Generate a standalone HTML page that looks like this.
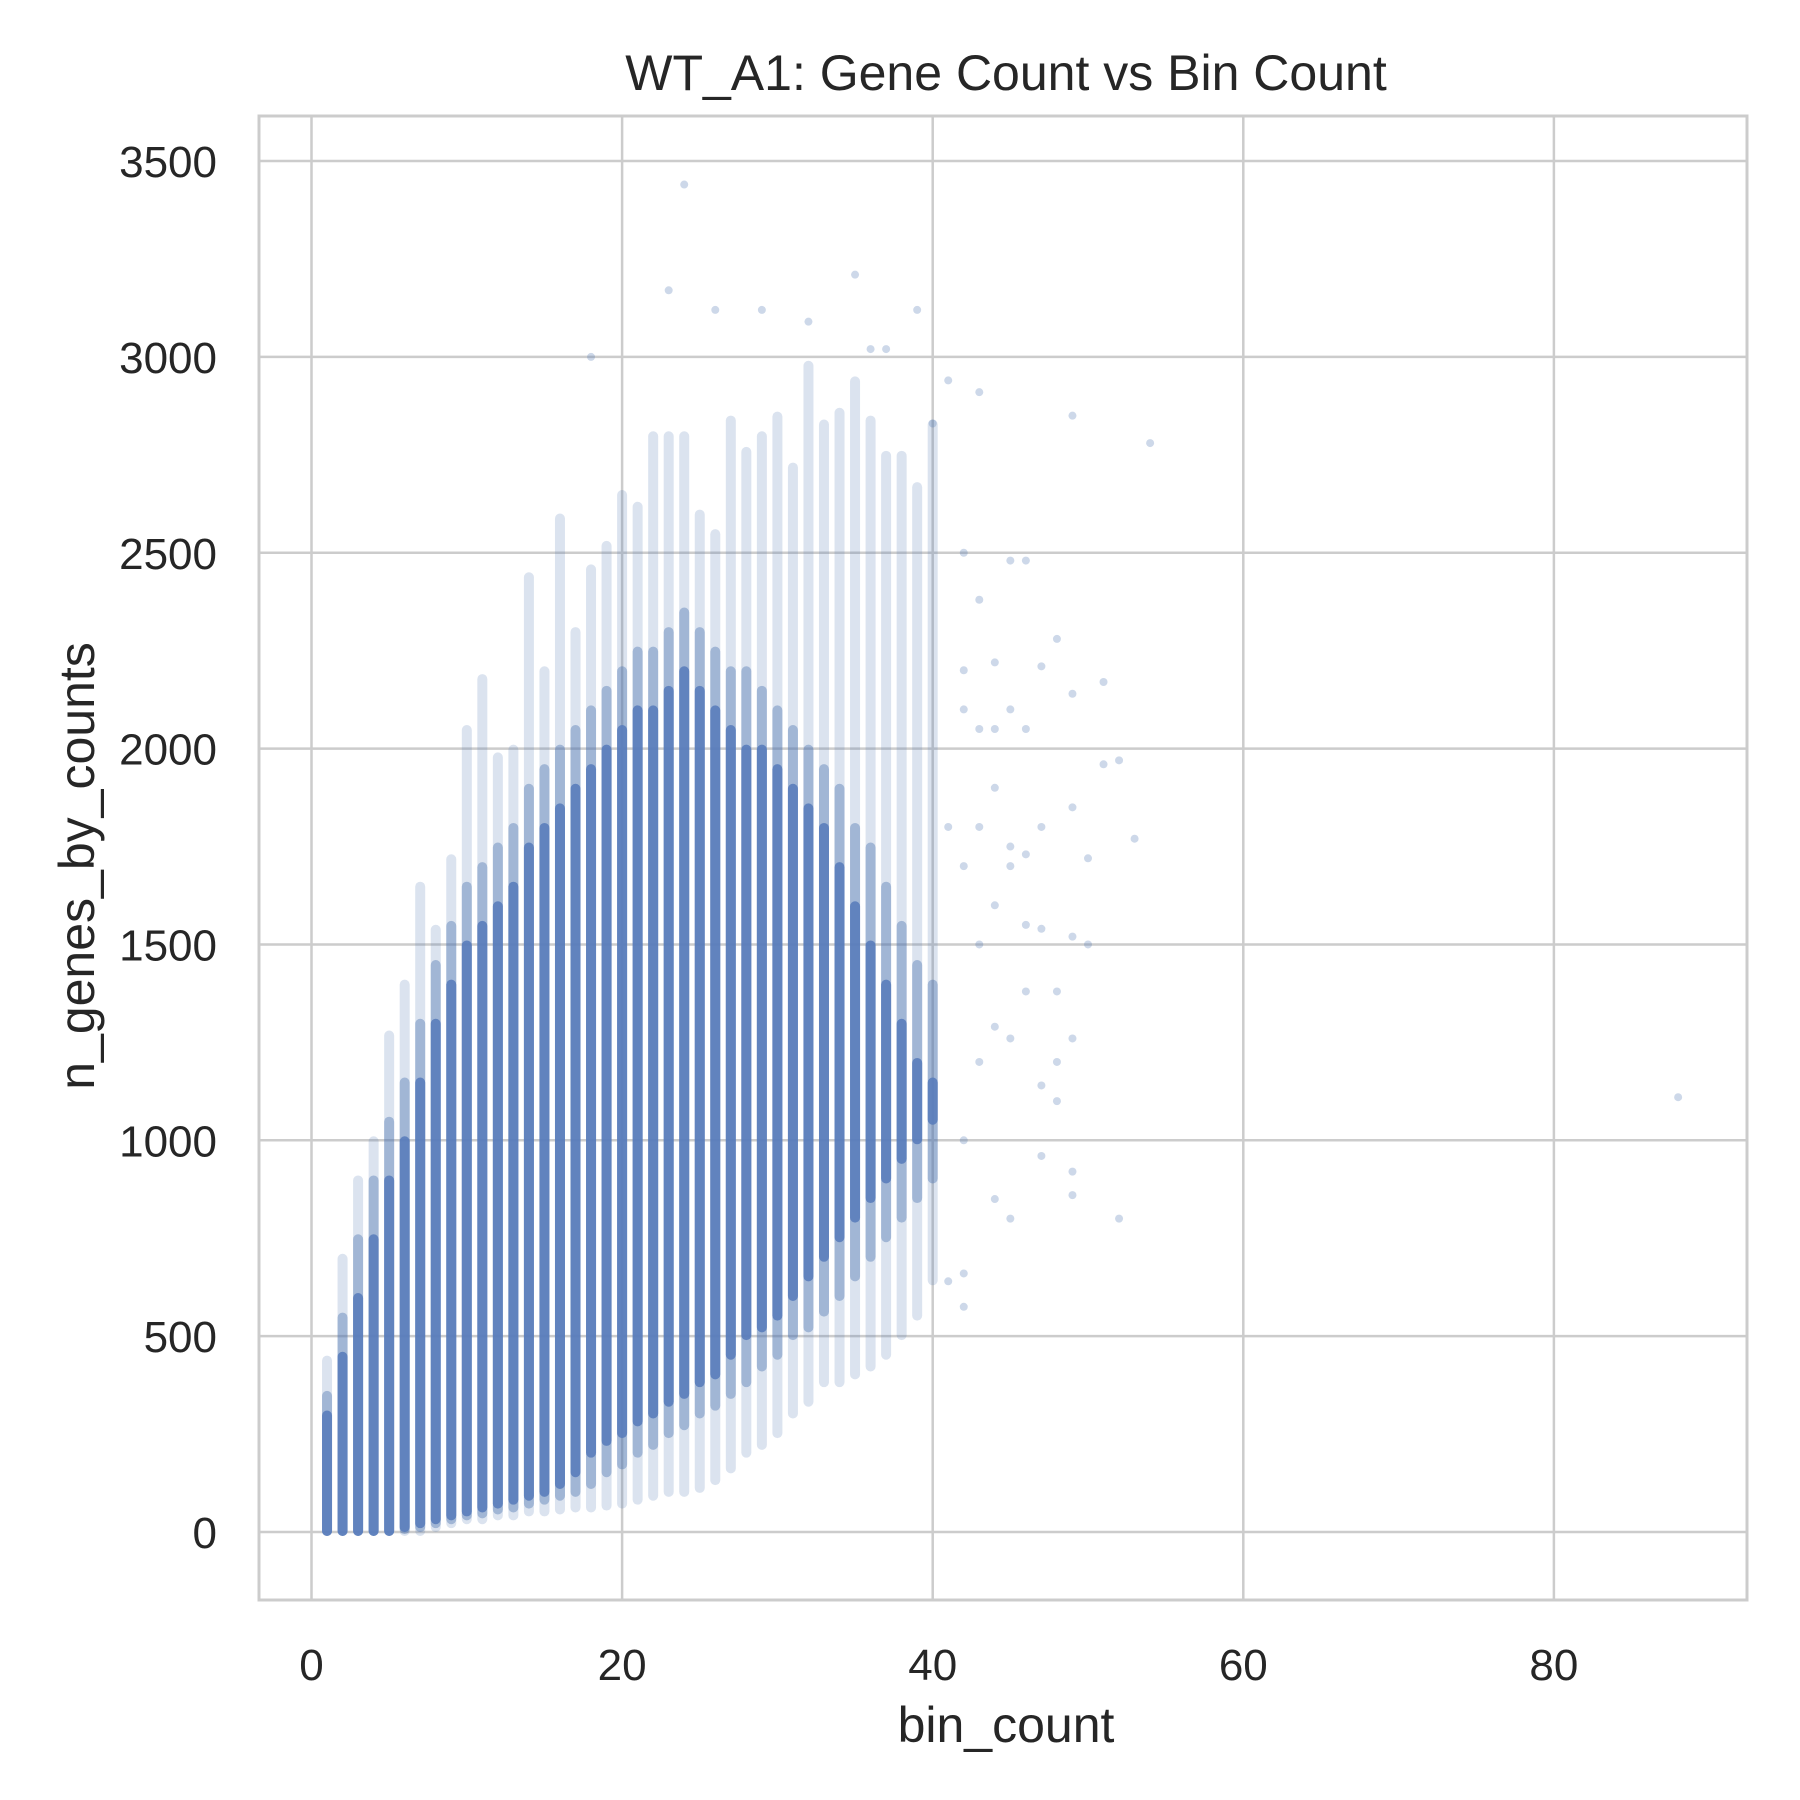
<!DOCTYPE html>
<html><head><meta charset="utf-8"><style>
body{margin:0;background:#fff}
svg{display:block}
text{font-family:"Liberation Sans",Arial,sans-serif;fill:#262626}
</style></head><body>
<svg id="chart" width="1800" height="1800" viewBox="0 0 1800 1800">
<rect width="1800" height="1800" fill="#fff"/>
<g id="grid"></g>
<g id="marks"></g>
<rect x="259" y="116" width="1488" height="1484" fill="none" stroke="#cccccc" stroke-width="3"/>
<g id="ticks"></g>
<text x="1006" y="90" font-size="50" text-anchor="middle">WT_A1: Gene Count vs Bin Count</text>
<text x="1006" y="1742" font-size="50" text-anchor="middle">bin_count</text>
<text x="0" y="0" font-size="50" text-anchor="middle" transform="translate(94,866) rotate(-90)">n_genes_by_counts</text>
</svg>
<script>
const bins=[1,2,3,4,5,6,7,8,9,10,11,12,13,14,15,16,17,18,19,20,21,22,23,24,25,26,27,28,29,30,31,32,33,34,35,36,37,38,39,40];
const denseLow=[0,0,0,0,0,10,20,30,40,50,60,70,80,90,100,120,150,200,230,250,280,300,330,350,380,400,450,500,520,550,600,650,700,750,800,850,900,950,1000,1050];
const denseHigh=[300,450,600,750,900,1000,1150,1300,1400,1500,1550,1600,1650,1750,1800,1850,1900,1950,2000,2050,2100,2100,2150,2200,2150,2100,2050,2000,2000,1950,1900,1850,1800,1700,1600,1500,1400,1300,1200,1150];
const midLow=[0,0,0,0,0,5,10,20,30,40,45,55,60,70,80,90,100,120,150,170,200,220,250,270,300,320,350,380,420,450,500,520,560,600,650,700,750,800,850,900];
const midHigh=[350,550,750,900,1050,1150,1300,1450,1550,1650,1700,1750,1800,1900,1950,2000,2050,2100,2150,2200,2250,2250,2300,2350,2300,2250,2200,2200,2150,2100,2050,2000,1950,1900,1800,1750,1650,1550,1450,1400];
const lightLow=[0,0,0,0,0,0,0,10,20,30,30,40,40,50,50,55,60,60,65,70,80,90,100,100,110,130,160,200,220,250,300,330,380,380,400,420,450,500,550,640];
const lightHigh=[440,700,900,1000,1270,1400,1650,1540,1720,2050,2180,1980,2000,2440,2200,2590,2300,2460,2520,2650,2620,2800,2800,2800,2600,2550,2840,2760,2800,2850,2720,2980,2830,2860,2940,2840,2750,2750,2670,2830];
const outX=[24,23,35,29,26,39,32,36,37,18,43,49,54,40,41,45,46,44,47,48,51,49,52,51,53,50,49,45,46,44,47,50,49,46,48,44,45,47,48,49,47,49,49,52,44,45,88,41,42,42,43,43,42,41,42,43,42,42,43,44,45,46,42,43,44,45,46,47,48];
const outY=[3440,3170,3210,3120,3120,3120,3090,3020,3020,3000,2910,2850,2780,2830,2940,2480,2480,2220,2210,2280,2170,2140,1970,1960,1770,1720,1850,1750,1730,1600,1540,1500,1520,1380,1380,1290,1260,1140,1200,1260,960,920,860,800,850,800,1110,640,660,575,1500,1200,1000,1800,1700,1800,2200,2100,2050,2050,2100,2050,2500,2380,1900,1700,1550,1800,1100];
const xTicks=[0,20,40,60,80];
const yTicks=[0,500,1000,1500,2000,2500,3000,3500];
const NS='http://www.w3.org/2000/svg';
const sx=v=>311.5+v*15.53;
const sy=v=>1532-v*0.3917;
const grid=document.getElementById('grid'),marks=document.getElementById('marks'),ticks=document.getElementById('ticks');
function mk(tag,attrs,parent){const e=document.createElementNS(NS,tag);for(const k in attrs)e.setAttribute(k,attrs[k]);parent.appendChild(e);return e;}
xTicks.forEach(t=>{
 const l=mk('line',{x1:sx(t),x2:sx(t),y1:116,y2:1600,stroke:'#cccccc','stroke-width':2.5},grid);
 
 
 const tx=mk('text',{x:sx(t),y:1680,'font-size':44,'text-anchor':'middle'},ticks);tx.textContent=t;
 
 
});
yTicks.forEach(t=>{
 const l=mk('line',{x1:259,x2:1747,y1:sy(t),y2:sy(t),stroke:'#cccccc','stroke-width':2.5},grid);
 
 
 const tx=mk('text',{x:217,y:sy(t)+16,'font-size':44,'text-anchor':'end'},ticks);tx.textContent=t;
 
 
});
bins.forEach((b,i)=>{
 const r1=mk('rect',{x:sx(b)-5,y:sy(lightHigh[i])-4,width:10,height:sy(lightLow[i])-sy(lightHigh[i])+8,rx:5,fill:'#4c72b0','fill-opacity':0.2},marks);
 
 
 const r3=mk('rect',{x:sx(b)-5,y:sy(midHigh[i])-4,width:10,height:sy(midLow[i])-sy(midHigh[i])+8,rx:5,fill:'#4c72b0','fill-opacity':0.4},marks);
 
 
 const r2=mk('rect',{x:sx(b)-5,y:sy(denseHigh[i])-4,width:10,height:sy(denseLow[i])-sy(denseHigh[i])+8,rx:5,fill:'#5a7dbb','fill-opacity':0.9},marks);
 
 
});
outX.forEach((x,i)=>{
 const c=mk('circle',{cx:sx(x),cy:sy(outY[i]),r:4,fill:'#4c72b0','fill-opacity':0.28},marks);
 
 
});
</script>
</body></html>
